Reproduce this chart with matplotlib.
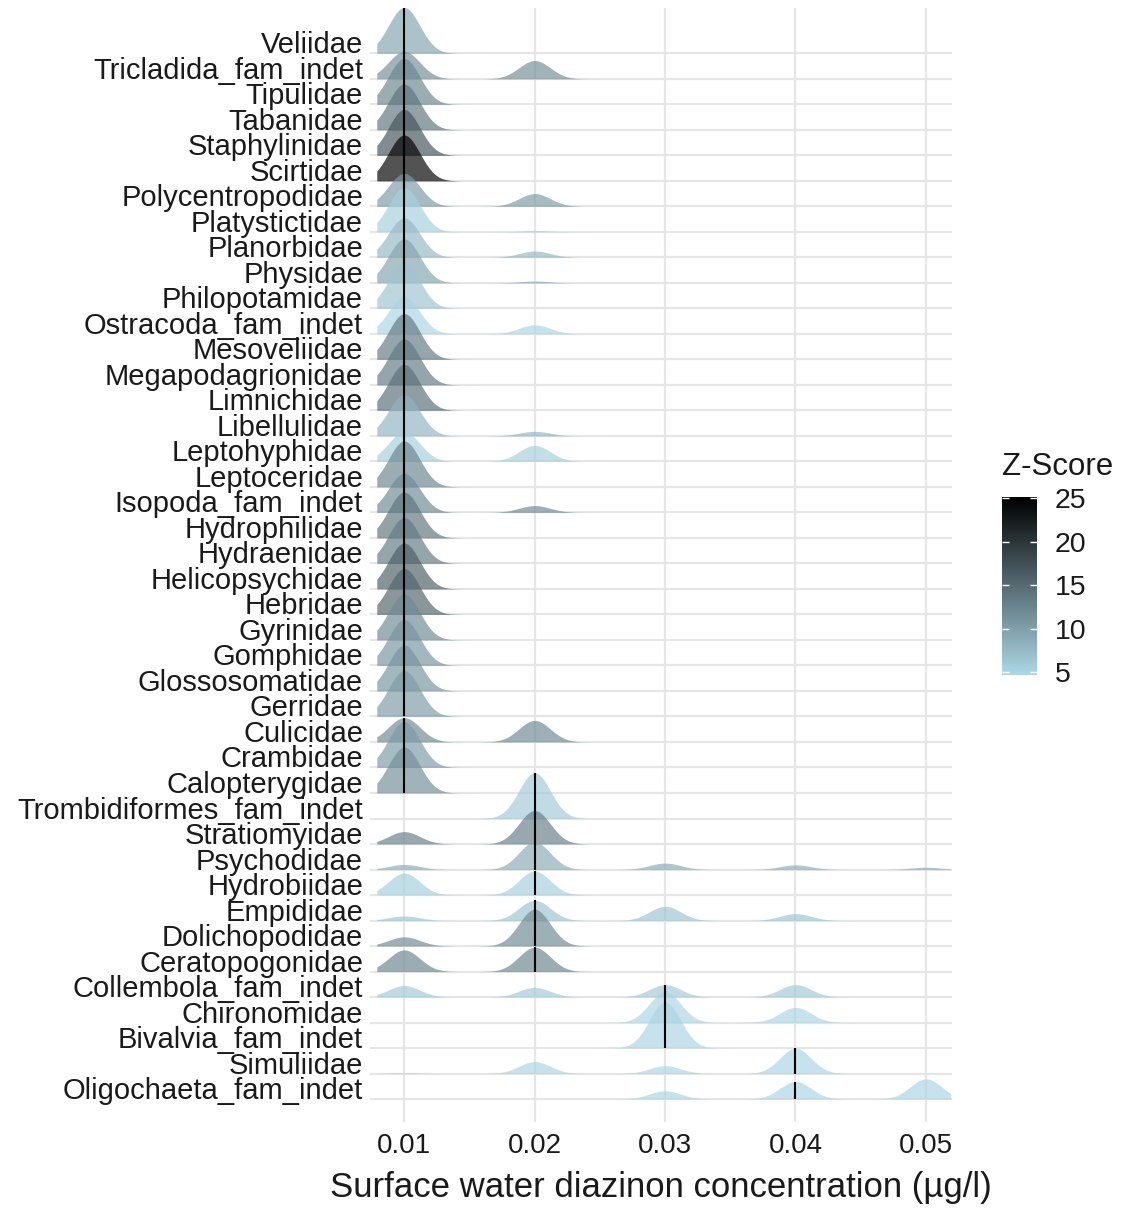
import numpy as np
import matplotlib
matplotlib.use("Agg")
import matplotlib.pyplot as plt
from matplotlib.colors import LinearSegmentedColormap, Normalize

# ---------------- data ----------------
families = [
    "Veliidae", "Tricladida_fam_indet", "Tipulidae", "Tabanidae", "Staphylinidae",
    "Scirtidae", "Polycentropodidae", "Platystictidae", "Planorbidae", "Physidae",
    "Philopotamidae", "Ostracoda_fam_indet", "Mesoveliidae", "Megapodagrionidae",
    "Limnichidae", "Libellulidae", "Leptohyphidae", "Leptoceridae", "Isopoda_fam_indet",
    "Hydrophilidae", "Hydraenidae", "Helicopsychidae", "Hebridae", "Gyrinidae",
    "Gomphidae", "Glossosomatidae", "Gerridae", "Culicidae", "Crambidae",
    "Calopterygidae", "Trombidiformes_fam_indet", "Stratiomyidae", "Psychodidae",
    "Hydrobiidae", "Empididae", "Dolichopodidae", "Ceratopogonidae",
    "Collembola_fam_indet", "Chironomidae", "Bivalvia_fam_indet", "Simuliidae",
    "Oligochaeta_fam_indet",
]

concentrations = [0.01, 0.02, 0.03, 0.04, 0.05]

# share of records at each concentration (same order as concentrations)
proportions = [
    [1.00, 0.00, 0.00, 0.00, 0.00],  # Veliidae
    [0.60, 0.40, 0.00, 0.00, 0.00],  # Tricladida
    [1.00, 0.00, 0.00, 0.00, 0.00],  # Tipulidae
    [1.00, 0.00, 0.00, 0.00, 0.00],  # Tabanidae
    [1.00, 0.00, 0.00, 0.00, 0.00],  # Staphylinidae
    [1.00, 0.00, 0.00, 0.00, 0.00],  # Scirtidae
    [0.72, 0.28, 0.00, 0.00, 0.00],  # Polycentropodidae
    [0.97, 0.03, 0.00, 0.00, 0.00],  # Platystictidae
    [0.86, 0.14, 0.00, 0.00, 0.00],  # Planorbidae
    [0.96, 0.04, 0.00, 0.00, 0.00],  # Physidae
    [1.00, 0.00, 0.00, 0.00, 0.00],  # Philopotamidae
    [0.80, 0.20, 0.00, 0.00, 0.00],  # Ostracoda
    [1.00, 0.00, 0.00, 0.00, 0.00],  # Mesoveliidae
    [1.00, 0.00, 0.00, 0.00, 0.00],  # Megapodagrionidae
    [1.00, 0.00, 0.00, 0.00, 0.00],  # Limnichidae
    [0.90, 0.10, 0.00, 0.00, 0.00],  # Libellulidae
    [0.65, 0.35, 0.00, 0.00, 0.00],  # Leptohyphidae
    [1.00, 0.00, 0.00, 0.00, 0.00],  # Leptoceridae
    [0.85, 0.15, 0.00, 0.00, 0.00],  # Isopoda
    [1.00, 0.00, 0.00, 0.00, 0.00],  # Hydrophilidae
    [1.00, 0.00, 0.00, 0.00, 0.00],  # Hydraenidae
    [1.00, 0.00, 0.00, 0.00, 0.00],  # Helicopsychidae
    [1.00, 0.00, 0.00, 0.00, 0.00],  # Hebridae
    [1.00, 0.00, 0.00, 0.00, 0.00],  # Gyrinidae
    [1.00, 0.00, 0.00, 0.00, 0.00],  # Gomphidae
    [1.00, 0.00, 0.00, 0.00, 0.00],  # Glossosomatidae
    [1.00, 0.00, 0.00, 0.00, 0.00],  # Gerridae
    [0.53, 0.47, 0.00, 0.00, 0.00],  # Culicidae
    [1.00, 0.00, 0.00, 0.00, 0.00],  # Crambidae
    [1.00, 0.00, 0.00, 0.00, 0.00],  # Calopterygidae
    [0.00, 1.00, 0.00, 0.00, 0.00],  # Trombidiformes
    [0.27, 0.73, 0.00, 0.00, 0.00],  # Stratiomyidae
    [0.11, 0.60, 0.14, 0.10, 0.05],  # Psychodidae
    [0.48, 0.52, 0.00, 0.00, 0.00],  # Hydrobiidae
    [0.10, 0.44, 0.31, 0.15, 0.00],  # Empididae
    [0.20, 0.80, 0.00, 0.00, 0.00],  # Dolichopodidae
    [0.47, 0.53, 0.00, 0.00, 0.00],  # Ceratopogonidae
    [0.25, 0.21, 0.27, 0.27, 0.00],  # Collembola
    [0.00, 0.00, 0.67, 0.33, 0.00],  # Chironomidae
    [0.00, 0.00, 1.00, 0.00, 0.00],  # Bivalvia
    [0.02, 0.26, 0.17, 0.55, 0.00],  # Simuliidae
    [0.00, 0.00, 0.18, 0.38, 0.44],  # Oligochaeta
]

z_scores = [
    9.5, 11.5, 12.5, 14.0, 17.0, 25.0, 10.5, 5.5, 7.5, 9.5,
    6.5, 5.0, 13.5, 13.5, 14.5, 8.0, 5.5, 12.5, 12.0, 14.0,
    13.5, 16.0, 15.5, 12.0, 11.0, 11.0, 10.5, 12.0, 10.5, 11.5,
    6.0, 13.0, 9.0, 5.5, 6.5, 12.0, 12.5, 6.0, 5.0, 5.0,
    5.0, 5.0,
]

x_ticks = [0.01, 0.02, 0.03, 0.04, 0.05]
x_tick_labels = ["0.01", "0.02", "0.03", "0.04", "0.05"]
legend_ticks = [5, 10, 15, 20, 25]

# ---------------- style ----------------
FONT = ["Liberation Sans", "DejaVu Sans"]
plt.rcParams["font.family"] = FONT
BW = 0.0012          # kernel bandwidth
SCALE = 1.8          # ridge height of a single full peak (in row units)
ALPHA = 0.68
GRID = "#e6e6e6"

cmap = LinearSegmentedColormap.from_list("zs", ["#ADD8E6", "#000000"])
norm = Normalize(vmin=4.7, vmax=25.1)

W, H = 1130, 1211
fig = plt.figure(figsize=(W / 100, H / 100), dpi=100)
ax = fig.add_axes([370 / W, (H - 1122) / H, (952 - 370) / W, (1122 - 8) / H])

xs = np.linspace(0.0079, 0.0519, 800)
conc = np.array(concentrations)
dens = []
for p in proportions:
    w = np.array(p) / np.sum(p)
    d = (w[None, :] * np.exp(-0.5 * ((xs[:, None] - conc[None, :]) / BW) ** 2)).sum(axis=1)
    dens.append(d)
gmax = max(d.max() for d in dens)

n = len(families)
for i, (fam, d, p, z) in enumerate(zip(families, dens, proportions, z_scores)):
    y0 = n - i
    h = d / gmax * SCALE
    zo = 2 + i
    ax.fill_between(xs, y0, y0 + h, color=cmap(norm(z)), alpha=ALPHA, lw=0, zorder=zo)
    # median of the records (discrete concentrations)
    w = np.array(p) / np.sum(p)
    med = conc[np.argmax(np.cumsum(w) >= 0.5 - 1e-9)]
    hm = np.interp(med, xs, h)
    ax.plot([med, med], [y0, y0 + hm], color="black", lw=1.5, zorder=zo + 0.5,
            solid_capstyle="butt")

ax.set_xlim(0.00738, 0.0520)
ax.set_ylim(0.1, n + 1.78)
ax.set_yticks(np.arange(n, 0, -1))
ax.set_yticklabels(families)
ax.set_xticks(x_ticks)
ax.set_xticklabels(x_tick_labels)
for lab in ax.get_yticklabels():
    lab.set_verticalalignment("baseline")
ax.tick_params(axis="y", length=0, pad=5, labelsize=21, labelcolor="#1a1a1a")
ax.tick_params(axis="x", length=0, pad=8, labelsize=20, labelcolor="#1a1a1a")
ax.grid(True, color=GRID, lw=1.6, zorder=0)
ax.set_axisbelow(True)
for s in ax.spines.values():
    s.set_visible(False)

fig.text(661 / W, (H - 1197) / H, "Surface water diazinon concentration (µg/l)",
         ha="center", va="baseline", fontsize=25, color="#1a1a1a")

# ---------------- legend (colour bar) ----------------
cax = fig.add_axes([1002 / W, (H - 675) / H, 35 / W, (675 - 497) / H])
grad = np.linspace(norm.vmin, norm.vmax, 256)[:, None]
cax.imshow(grad, aspect="auto", cmap=cmap, norm=norm, origin="lower",
           extent=[0, 1, norm.vmin, norm.vmax])
cax.set_xlim(0, 1)
cax.set_ylim(norm.vmin, norm.vmax)
cax.set_xticks([])
cax.set_yticks(legend_ticks)
cax.set_yticklabels([str(t) for t in legend_ticks])
cax.yaxis.tick_right()
for t in legend_ticks:
    cax.plot([0, 0.2], [t, t], color="white", lw=1, solid_capstyle="butt")
    cax.plot([0.8, 1], [t, t], color="white", lw=1, solid_capstyle="butt")
cax.tick_params(axis="y", length=0, pad=13, labelsize=20.5, labelcolor="#1a1a1a")
for s in cax.spines.values():
    s.set_visible(False)
fig.text(1002 / W, (H - 475) / H, "Z-Score", ha="left", va="baseline",
         fontsize=22.5, color="#1a1a1a")

fig.savefig("out.png", dpi=100, facecolor="white")
